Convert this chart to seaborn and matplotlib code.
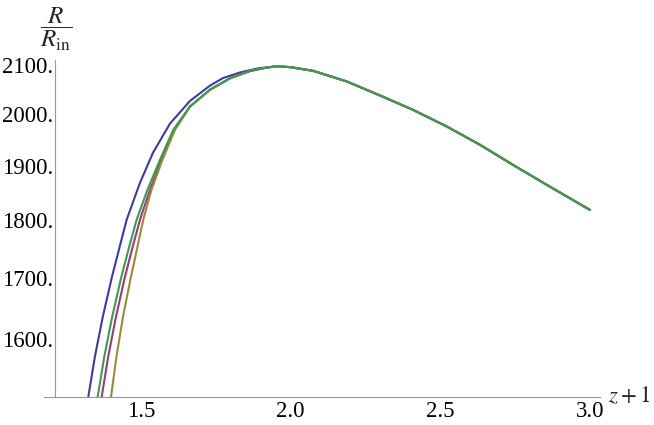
import numpy as np
import pandas as pd
import matplotlib
matplotlib.use("Agg")
import matplotlib.pyplot as plt
import seaborn as sns
from matplotlib.ticker import FixedLocator, FixedFormatter, NullFormatter

# --- DATA ---
# shared part of all four curves, right of the maximum
tail_x = [1.954, 2.000, 2.075, 2.188, 2.299, 2.409, 2.522, 2.633, 2.743, 2.857, 3.000]
tail_y = [2097.0, 2095.0, 2087.5, 2065.5, 2037.0, 2008.3, 1975.3, 1939.8, 1901.6, 1864.0, 1818.6]

blue_x = [1.3089, 1.3239, 1.3460, 1.3724, 1.4031, 1.4288, 1.4522, 1.4967, 1.5401, 1.5969,
          1.6637, 1.7305, 1.7740, 1.8308, 1.8909]
blue_y = [1466.5, 1510.5, 1571.9, 1635.5, 1701.7, 1753.1, 1800.8, 1868.0, 1924.5, 1981.0,
          2026.0, 2057.0, 2072.5, 2084.0, 2092.5]

# green, then the two middle curves which join it near z+1 = 1.66
green_x = [1.3403, 1.3553, 1.3774, 1.4038, 1.4345, 1.4606, 1.4856, 1.5217, 1.5635, 1.6079,
           1.6637, 1.7305, 1.7974, 1.8642, 1.9143]
green_y = [1466.5, 1510.5, 1571.9, 1635.5, 1701.7, 1753.1, 1800.8, 1855.0, 1911.0, 1968.8,
           2014.9, 2048.6, 2072.0, 2087.0, 2093.5]

magenta_x = [1.3537, 1.3687, 1.3904, 1.4165, 1.4465, 1.4723, 1.4967, 1.5301, 1.5685, 1.6119]
magenta_y = [1466.5, 1510.5, 1571.9, 1635.5, 1701.7, 1753.1, 1800.8, 1855.0, 1911.0, 1968.8]

yellow_x = [1.3848, 1.3998, 1.4181, 1.4399, 1.4666, 1.4883, 1.5077, 1.5351, 1.5718, 1.6136]
yellow_y = [1466.5, 1510.5, 1571.9, 1635.5, 1701.7, 1753.1, 1800.8, 1855.0, 1911.0, 1968.8]

y_ticks = [1600, 1700, 1800, 1900, 2000, 2100]
y_tick_labels = ["1600.", "1700.", "1800.", "1900.", "2000.", "2100."]
x_ticks = [1.5, 2.0, 2.5, 3.0]
x_tick_labels = ["1.5", "2.0", "2.5", "3.0"]

# --- BUILD LONG TABLE ---
join = 10  # index in green where the middle curves merge into it
series = {
    "a": (blue_x + tail_x, blue_y + tail_y),
    "b": (magenta_x + green_x[join:] + tail_x, magenta_y + green_y[join:] + tail_y),
    "c": (yellow_x + green_x[join:] + tail_x, yellow_y + green_y[join:] + tail_y),
    "d": (green_x + tail_x, green_y + tail_y),
}
rows = []
for name, (xs, ys) in series.items():
    for xv, yv in zip(xs, ys):
        rows.append({"curve": name, "x": xv, "y": yv})
df = pd.DataFrame(rows)

palette = {"a": "#3d3d99", "b": "#993d71", "c": "#998b3d", "d": "#3d9954"}

# --- PLOT ---
sns.set_style("white")
plt.rcParams["font.family"] = ["Liberation Serif", "DejaVu Serif"]
plt.rcParams["mathtext.fontset"] = "stix"

fig = plt.figure(figsize=(6.54, 4.25), dpi=100)
ax = fig.add_axes([44 / 654, 1 - 397 / 425, 556 / 654, 337 / 425])

sns.lineplot(data=df, x="x", y="y", hue="curve", palette=palette, sort=False,
             estimator=None, units="curve", legend=False, linewidth=1.5, ax=ax)

ax.set_yscale("log")
ax.set_xlim(1.176, 3.034)
ax.set_ylim(1510.5, 2110.0)

ax.yaxis.set_major_locator(FixedLocator(y_ticks))
ax.yaxis.set_major_formatter(FixedFormatter(y_tick_labels))
ax.yaxis.set_minor_locator(FixedLocator([v for v in range(1520, 2101, 20) if v % 100 != 0]))
ax.yaxis.set_minor_formatter(NullFormatter())
ax.xaxis.set_major_locator(FixedLocator(x_ticks))
ax.xaxis.set_major_formatter(FixedFormatter(x_tick_labels))
ax.xaxis.set_minor_locator(FixedLocator([1.3, 1.4, 1.6, 1.7, 1.8, 1.9, 2.1, 2.2, 2.3, 2.4,
                                         2.6, 2.7, 2.8, 2.9]))

for s in ["top", "right"]:
    ax.spines[s].set_visible(False)
ax.spines["left"].set_position(("data", 1.213))
for s in ["left", "bottom"]:
    ax.spines[s].set_color("#999999")
    ax.spines[s].set_linewidth(0.8)

ax.tick_params(which="both", direction="in", color="#999999", width=0.7,
               labelsize=16.5, labelcolor="black")
ax.tick_params(which="major", length=4)
ax.tick_params(which="minor", length=2.2)
ax.tick_params(axis="y", which="both", pad=1.5)
ax.tick_params(axis="x", which="both", pad=3)
ax.set_xlabel("")
ax.set_ylabel("")

ax.text(1.014, 0.0, r"$z+1$", transform=ax.transAxes, ha="left", va="center", fontsize=16.5)
fig.text(56 / 654, 1 - 29 / 425, r"$\dfrac{R}{R_{\mathrm{in}}}$", ha="center", va="center",
         fontsize=18)

fig.savefig("out.png", dpi=100)
